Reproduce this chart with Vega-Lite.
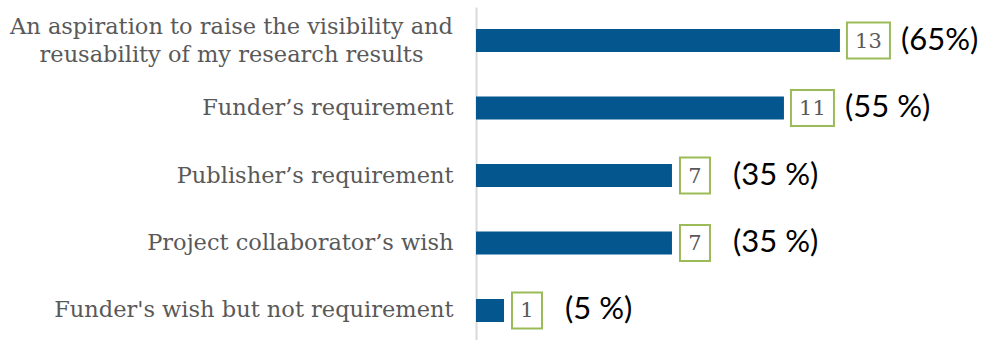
{
  "$schema": "https://vega.github.io/schema/vega-lite/v6.json",
  "width": 514,
  "height": 337,
  "autosize": "none",
  "padding": {"left": 476, "top": 7, "right": 0, "bottom": 0},
  "background": "white",
  "config": {"view": {"stroke": null}},
  "data": {"values": [
    {"reason": "An aspiration to raise the visibility and reusability of my research results", "count": 13, "pct": "(65%)"},
    {"reason": "Funder’s requirement", "count": 11, "pct": "(55 %)"},
    {"reason": "Publisher’s requirement", "count": 7, "pct": "(35 %)"},
    {"reason": "Project collaborator’s wish", "count": 7, "pct": "(35 %)"},
    {"reason": "Funder's wish but not requirement", "count": 1, "pct": "(5 %)"}
  ]},
  "encoding": {
    "y": {
      "field": "reason", "type": "nominal", "sort": null,
      "scale": {"paddingInner": 0.659, "paddingOuter": 0.326},
      "axis": {
        "title": null, "ticks": false, "grid": false,
        "domainColor": "#d9d9d9", "domainWidth": 2,
        "labelFont": "DejaVu Serif", "labelFontSize": 22.5, "labelColor": "#595959",
        "labelLimit": 0, "labelLineHeight": 28,
        "labelAlign": {"condition": {"test": "indexof(datum.value,'aspiration')>=0", "value": "center"}, "value": "right"},
        "labelPadding": {"condition": {"test": "indexof(datum.value,'aspiration')>=0", "value": 245}, "value": 23},
        "labelOffset": {"condition": {"test": "indexof(datum.value,'aspiration')>=0", "value": -14}, "value": 0},
        "labelExpr": "indexof(datum.value,'aspiration')>=0 ? ['An aspiration to raise the visibility and','reusability of my research results'] : datum.value"
      }
    }
  },
  "layer": [
    {
      "mark": {"type": "bar", "color": "#04568f"},
      "encoding": {"x": {"field": "count", "type": "quantitative", "scale": {"domain": [0, 18.36], "nice": false}, "axis": null}}
    },
    {
      "transform": [{"filter": "datum.count >= 10"}],
      "layer": [
        {
          "mark": {"type": "bar", "size": 36, "fill": "white", "stroke": "#9bbb59", "strokeWidth": 2, "xOffset": 7, "x2Offset": 50},
          "encoding": {"x": {"field": "count", "type": "quantitative"}, "x2": {"field": "count"}}
        },
        {
          "mark": {"type": "text", "font": "DejaVu Serif", "fontSize": 21, "color": "#595959", "align": "center", "baseline": "middle", "dx": 28.5, "dy": 1},
          "encoding": {"x": {"field": "count", "type": "quantitative"}, "text": {"field": "count"}}
        }
      ]
    },
    {
      "transform": [{"filter": "datum.count < 10"}],
      "layer": [
        {
          "mark": {"type": "bar", "size": 36, "fill": "white", "stroke": "#9bbb59", "strokeWidth": 2, "xOffset": 8, "x2Offset": 38},
          "encoding": {"x": {"field": "count", "type": "quantitative"}, "x2": {"field": "count"}}
        },
        {
          "mark": {"type": "text", "font": "DejaVu Serif", "fontSize": 21, "color": "#595959", "align": "center", "baseline": "middle", "dx": 23, "dy": 1},
          "encoding": {"x": {"field": "count", "type": "quantitative"}, "text": {"field": "count"}}
        }
      ]
    },
    {
      "mark": {"type": "text", "font": "Lato", "fontSize": 31, "color": "#000000", "align": "left", "baseline": "middle", "dx": 61},
      "encoding": {"x": {"field": "count", "type": "quantitative"}, "text": {"field": "pct"}}
    }
  ]
}
